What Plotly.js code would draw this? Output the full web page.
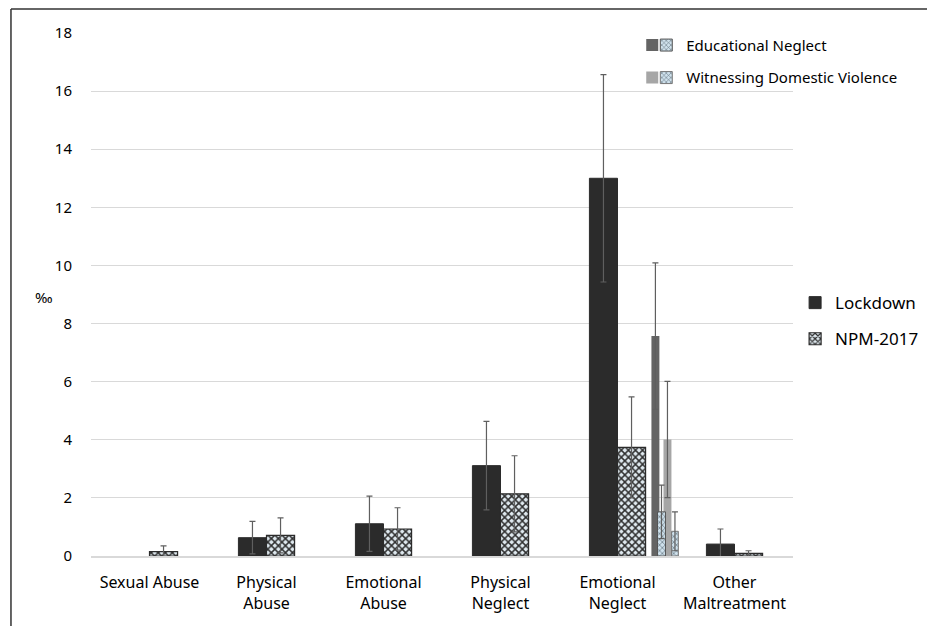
<!DOCTYPE html>
<html>
<head>
<meta charset="utf-8">
<script src="https://cdn.plot.ly/plotly-3.0.1.min.js"></script>
<style>html,body{margin:0;padding:0;background:#fff;}#chart{width:927px;height:626px;}</style>
</head>
<body>
<div id="chart"></div>
<script>
// Categories (x axis)
const categories = ['Sexual Abuse', 'Physical<br>Abuse', 'Emotional<br>Abuse', 'Physical<br>Neglect', 'Emotional<br>Neglect', 'Other<br>Maltreatment'];
// Main series (‰)
const lockdown    = [null, 0.63, 1.11, 3.11, 13.0, 0.41];
const lockdownErr = [null, 0.56, 0.95, 1.52, 3.57, 0.52];
const npm2017     = [0.15, 0.71, 0.93, 2.14, 3.74, 0.09];
const npm2017Err  = [0.20, 0.60, 0.73, 1.31, 1.74, 0.09];
// Sub-categories of Emotional Neglect
const subCategory = ['Emotional<br>Neglect'];
const eduLockdown = [7.57];
const eduLockdownErr = [2.52];
const eduNpm = [1.52];
const eduNpmErr = [0.92];
const wdvLockdown = [4.01];
const wdvLockdownErr = [2.00];
const wdvNpm = [0.85];
const wdvNpmErr = [0.67];
const yTicks = [0, 2, 4, 6, 8, 10, 12, 14, 16, 18];

const errStyle = {type: 'data', visible: true, color: '#5f5f5f', thickness: 1.2, width: 3};
const npmPattern = {shape: 'x', fgcolor: '#2e2e2e', bgcolor: '#dfe9ef', size: 5, solidity: 0.5};
const subPattern = {shape: 'x', fgcolor: '#5d6d78', bgcolor: '#cfe1ec', size: 4, solidity: 0.3};

const traces = [
  {type: 'bar', name: 'Lockdown', x: categories, y: lockdown,
   error_y: Object.assign({array: lockdownErr}, errStyle),
   marker: {color: '#2b2b2b', line: {color: '#2b2b2b', width: 1}},
   legend: 'legend', legendgroup: 'a'},
  {type: 'bar', name: 'NPM-2017', x: categories, y: npm2017,
   error_y: Object.assign({array: npm2017Err}, errStyle),
   marker: {color: '#dfe9ef', pattern: npmPattern, line: {color: '#2b2b2b', width: 1.2}},
   legend: 'legend', legendgroup: 'b'},
  {type: 'bar', name: ' ', x: subCategory, y: eduLockdown, offset: 0.29, width: 0.068,
   error_y: Object.assign({array: eduLockdownErr}, errStyle),
   marker: {color: '#646464', line: {color: '#646464', width: 0}},
   legend: 'legend2', legendgroup: 'c'},
  {type: 'bar', name: ' ', x: subCategory, y: wdvLockdown, offset: 0.393, width: 0.068,
   error_y: Object.assign({array: wdvLockdownErr}, errStyle),
   marker: {color: '#a6a6a6', line: {color: '#a6a6a6', width: 0}},
   legend: 'legend2', legendgroup: 'd'},
  {type: 'bar', name: 'Educational Neglect', x: subCategory, y: eduNpm, offset: 0.342, width: 0.068,
   error_y: Object.assign({array: eduNpmErr}, errStyle),
   marker: {color: '#cfe1ec', pattern: subPattern, line: {color: '#555', width: 1}},
   legend: 'legend3', legendgroup: 'e'},
  {type: 'bar', name: 'Witnessing Domestic Violence', x: subCategory, y: wdvNpm, offset: 0.462, width: 0.058,
   error_y: Object.assign({array: wdvNpmErr}, errStyle),
   marker: {color: '#cfe1ec', pattern: subPattern, line: {color: '#777', width: 1}},
   legend: 'legend3', legendgroup: 'f'}
];

const fontFam = 'Noto Sans, Open Sans, sans-serif';
const layout = {
  width: 927, height: 626,
  margin: {l: 91, r: 134, t: 33, b: 70, autoexpand: false},
  paper_bgcolor: '#fff', plot_bgcolor: '#fff',
  font: {family: fontFam, color: '#000', size: 15},
  barmode: 'group', bargap: 0.52, bargroupgap: 0,
  showlegend: true,
  xaxis: {
    type: 'category', categoryorder: 'array', categoryarray: categories,
    showgrid: false, showline: true, linecolor: '#d9d9d9', linewidth: 1.5,
    ticks: '', tickfont: {size: 16, family: fontFam}, ticklabelstandoff: 11, zeroline: false,
    automargin: false
  },
  yaxis: {
    range: [0, 18], tickvals: yTicks, ticktext: yTicks.map(String),
    showgrid: true, gridcolor: '#d9d9d9', gridwidth: 1, zeroline: false, automargin: false,
    showline: false, ticks: '', ticklabelstandoff: 18, tickfont: {size: 15, family: fontFam}
  },
  legend: {x: 1.003, xanchor: 'left', y: 0.518, yanchor: 'top', font: {size: 17, family: fontFam},
           bgcolor: 'rgba(0,0,0,0)', borderwidth: 0, tracegroupgap: 11},
  legend2: {x: 0.771, xanchor: 'left', y: 1.008, yanchor: 'top', font: {size: 15, family: fontFam},
           bgcolor: 'rgba(0,0,0,0)', borderwidth: 0, tracegroupgap: 10},
  legend3: {x: 0.791, xanchor: 'left', y: 1.008, yanchor: 'top', font: {size: 15, family: fontFam},
           bgcolor: 'rgba(0,0,0,0)', borderwidth: 0, tracegroupgap: 10},
  annotations: [
    {text: '‰', xref: 'paper', yref: 'paper', x: -0.083, y: 0.495, showarrow: false,
     font: {size: 15, family: fontFam, color: '#000'}}
  ],
  shapes: [
    {type: 'line', xref: 'paper', yref: 'paper', x0: -0.114, x1: -0.114, y0: -0.14, y1: 1.046,
     line: {color: '#333', width: 1.5}},
    {type: 'line', xref: 'paper', yref: 'paper', x0: -0.114, x1: 1.2, y0: 1.046, y1: 1.046,
     line: {color: '#333', width: 1.5}}
  ]
};

Plotly.newPlot('chart', traces, layout, {displayModeBar: false, staticPlot: true});
</script>
</body>
</html>
